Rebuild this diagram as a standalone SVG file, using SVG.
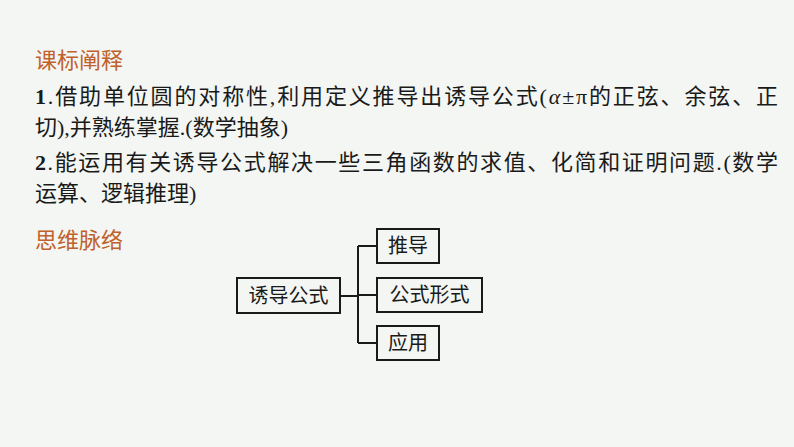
<svg xmlns="http://www.w3.org/2000/svg" width="794" height="447" viewBox="0 0 794 447">
<style>
text{font-family:"Liberation Serif","Noto Sans CJK SC",serif;font-size:22px;fill:#1a1a1a}
.h{fill:#c0612b;font-family:"Noto Sans CJK SC",sans-serif;font-size:22px}
.b{fill:none;stroke:#1a1a1a;stroke-width:2}
.n{font-family:"Noto Sans CJK SC",sans-serif;font-size:20px;text-anchor:middle}
</style>
<rect width="794" height="447" fill="#f3f6f2"/>
<text class="h" x="35" y="68">课标阐释</text>
<text x="35" y="104" textLength="743" lengthAdjust="spacing"><tspan font-weight="bold">1</tspan>.借助单位圆的对称性,利用定义推导出诱导公式(<tspan font-style="italic">α</tspan>±π的正弦、余弦、正</text>
<text x="35" y="135">切),并熟练掌握.(数学抽象)</text>
<text x="35" y="170" textLength="743" lengthAdjust="spacing"><tspan font-weight="bold">2</tspan>.能运用有关诱导公式解决一些三角函数的求值、化简和证明问题.(数学</text>
<text x="35" y="201">运算、逻辑推理)</text>
<text class="h" x="35" y="248">思维脉络</text>
<g id="connectors" class="b"><path d="M340 296H358M358 246V343M358 246H377M358 295H377M358 343H377"/></g>
<g id="n1"><rect class="b" x="237" y="278" width="103" height="35"/><text class="n" x="288.5" y="303">诱导公式</text></g>
<g id="n2"><rect class="b" x="377" y="229" width="62" height="34"/><text class="n" x="408" y="253">推导</text></g>
<g id="n3"><rect class="b" x="377" y="278" width="105" height="34"/><text class="n" x="429.5" y="302">公式形式</text></g>
<g id="n4"><rect class="b" x="377" y="326" width="62" height="34"/><text class="n" x="408" y="350">应用</text></g>
</svg>
